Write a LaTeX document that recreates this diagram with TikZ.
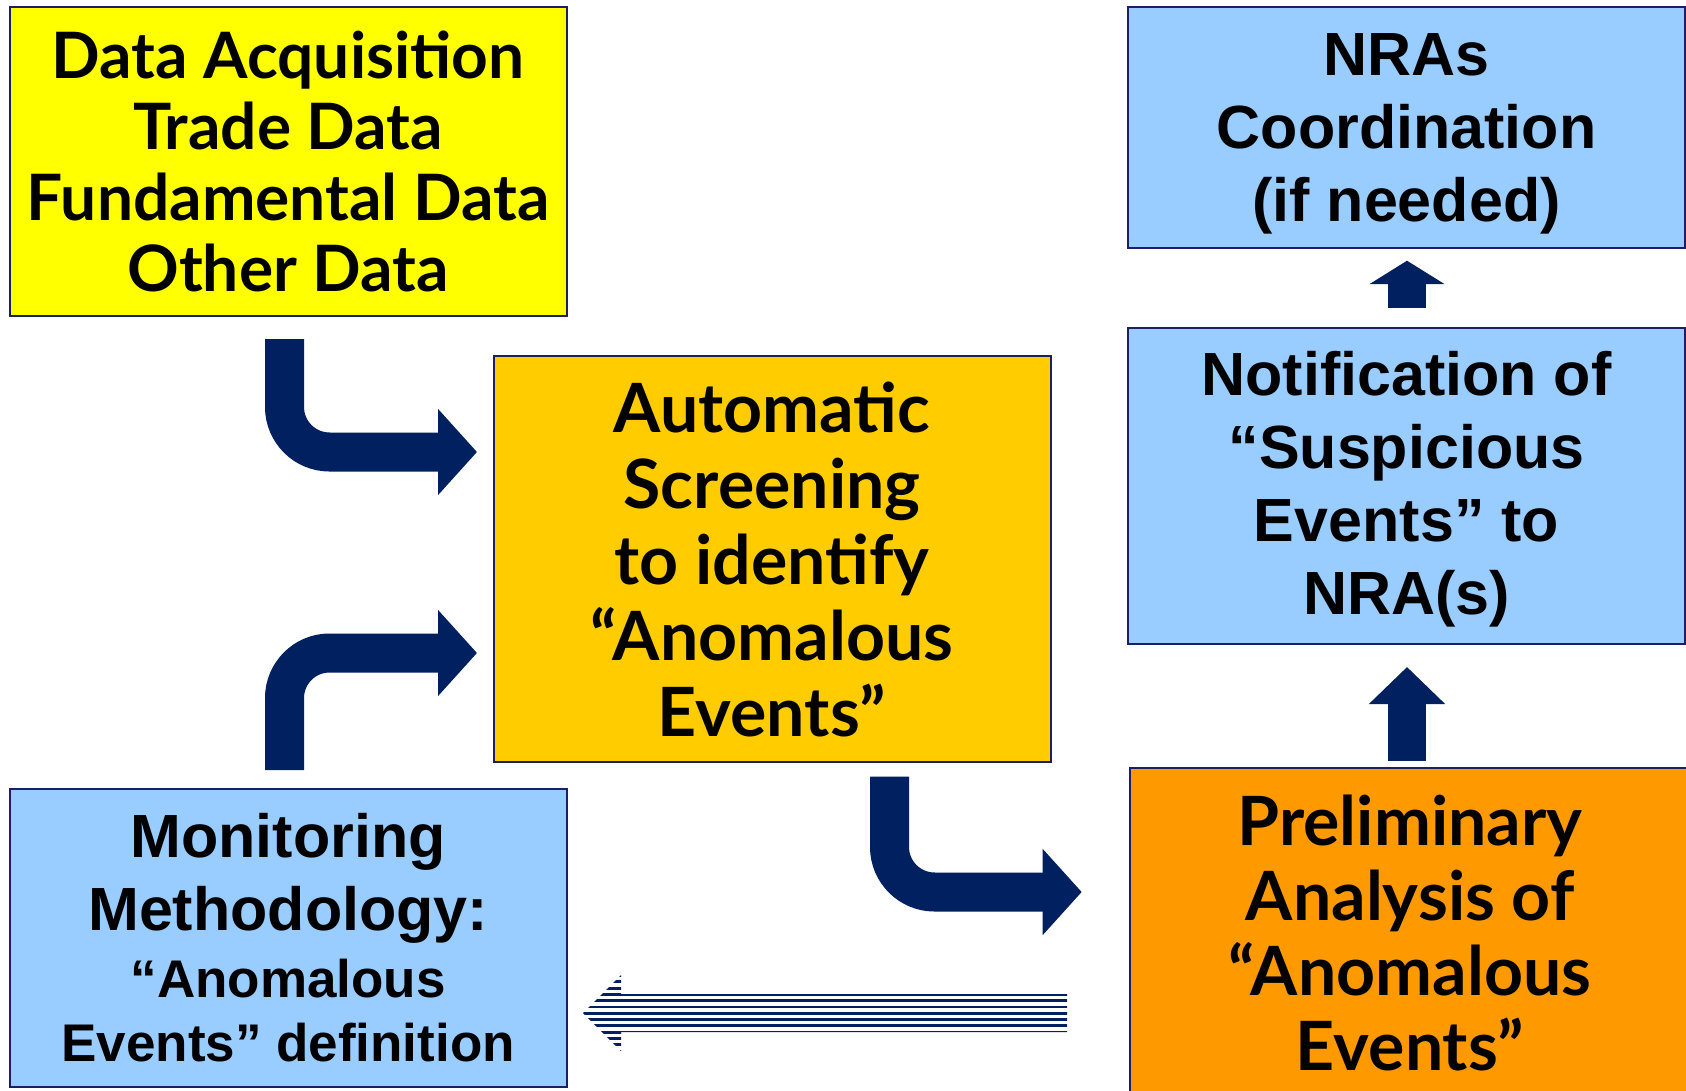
\documentclass[tikz,border=0pt]{standalone}
\usepackage{fontspec}
\setmainfont{Lato}
\newfontfamily\arialish{Liberation Sans}
\usetikzlibrary{arrows.meta,positioning,calc}
\usepackage{xcolor}
\definecolor{navyarrow}{RGB}{0,32,96}
\definecolor{boxline}{RGB}{30,30,100}
\definecolor{lemon}{RGB}{255,255,0}
\definecolor{amber}{RGB}{255,204,0}
\definecolor{skyblue}{RGB}{153,204,255}
\definecolor{tangerine}{RGB}{255,153,0}

\begin{document}
\begin{tikzpicture}[x=0.5pt,y=-0.5pt]
	% Fix the page size.
	\useasboundingbox (0,0) rectangle (1686,1091);

	\tikzstyle{stage}=[draw=boxline, line width=1pt, anchor=north west, align=center, minimum width=278.5pt, inner sep=0pt]
	\tikzstyle{gill}=[font=\bfseries\fontsize{32}{35.5}\selectfont]
	\tikzstyle{arial}=[font=\arialish\bfseries\fontsize{30.5}{36.5}\selectfont]
	\tikzstyle{bent}=[draw=navyarrow, line width=19.5pt, rounded corners=22.5pt, -{Triangle[width=42pt,length=19.5pt]}]
	\tikzstyle{rise}=[draw=navyarrow, line width=19pt, -{Triangle[width=37pt,length=18.5pt]}]

	% The six boxes.
	\node[stage, gill, fill=lemon, minimum height=154.25pt] (acq) at (8.6,6.5)
		{Data Acquisition\\Trade Data\\Fundamental Data\\Other Data};
	\node[stage, gill, fill=amber, minimum height=203pt, font=\bfseries\fontsize{34}{38}\selectfont] (screen) at (492.5,355)
		{Automatic\\Screening\\to identify\\“Anomalous\\Events”};
	\node[stage, arial, fill=skyblue, minimum height=120.25pt, text depth=0pt] (nras) at (1127,6.5)
		{NRAs\\Coordination\\(if needed)};
	\node[stage, arial, fill=skyblue, minimum height=158pt, text depth=3pt] (notif) at (1127,327)
		{Notification of\\“Suspicious\\Events” to\\NRA(s)};
	\node[stage, gill, fill=tangerine, minimum width=280pt, minimum height=165pt, font=\bfseries\fontsize{34}{37.5}\selectfont] (prelim) at (1129,767)
		{Preliminary\\Analysis of\\“Anomalous\\Events”};
	\node[stage, arial, fill=skyblue, minimum height=149pt, font=\arialish\bfseries\fontsize{30.5}{32}\selectfont] (method) at (8.6,788)
		{Monitoring\\[4.5pt]Methodology:\\[1.5pt]\fontsize{26.5}{32}\selectfont “Anomalous\\\fontsize{26.5}{32}\selectfont Events” definition};

	% Ends of the bent arrows.
	\coordinate (acq out) at (284.5,339);
	\coordinate (screen in a) at (477,452);
	\coordinate (method out) at (284.5,770);
	\coordinate (screen in b) at (477,653);
	\coordinate (screen out) at (889.5,776.7);
	\coordinate (prelim in) at (1081.7,892);
	\draw[bent] (acq out) |- (screen in a);
	\draw[bent] (method out) |- (screen in b);
	\draw[bent] (screen out) |- (prelim in);

	% Straight arrows going up.
	\coordinate (prelim out) at (1407,761);
	\coordinate (notif in) at (1407,667);
	\coordinate (notif out) at (1407,308);
	\coordinate (nras in) at (1407,260.7);
	\draw[rise] (prelim out) -- (notif in);
	\draw[rise, -{Triangle[width=37pt,length=11.7pt]}] (notif out) -- (nras in);

	% Striped arrow back to the methodology.
	\coordinate (back start) at (1067,1013);
	\coordinate (back tip) at (583,1013);
	\begin{scope}
		\clip (back tip) -- ++(38,-38) -- ++(0,19) -| (back start) |- ++(-446,19) -- ++(0,19) -- cycle;
		\foreach \yy in {975.5,981.8,...,1052} {
			\draw[navyarrow, line width=1.45pt] (570,\yy) -- (1080,\yy);
		}
	\end{scope}
\end{tikzpicture}
\end{document}
